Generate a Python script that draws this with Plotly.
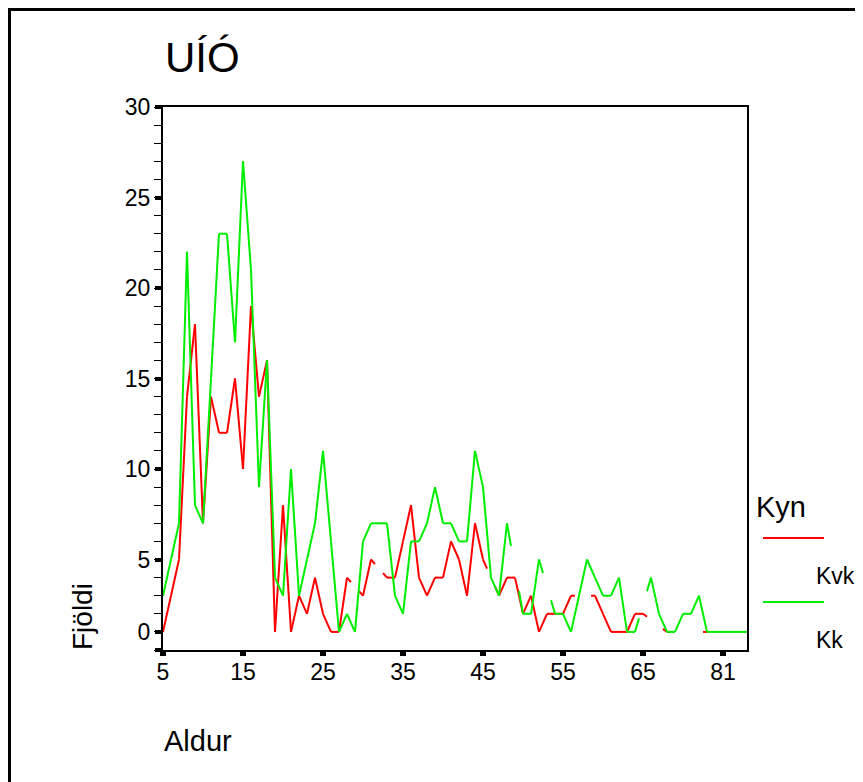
import plotly.graph_objects as go

# aldur (flokkar á x-ás) - aðeins þeir aldurshópar sem koma fyrir
aldur = list(range(5, 66)) + [66, 67, 68, 70, 71, 73, 74, 76, 78, 81, 82, 84, 86]

# fjöldi eftir kyni, None = enginn í þeim aldri
kvk = [1, 3, 5, 14, 18, 7, 14, 12, 12, 15,
       10, 19, 14, 16, 1, 8, 1, 3, 2, 4,
       2, 1, 1, 4, None, 3, 5, None, 4, 4,
       6, 8, 4, 3, 4, 4, 6, 5, 3, 7,
       5, None, 3, 4, 4, 2, 3, 1, 2, 2,
       2, 3, None, None, 3, 2, 1, 1, 1, 2,
       2, None, None, 1, None, None, None, None, 1, None,
       None, None, None, None]
kk = [3, 5, 7, 22, 8, 7, 15, 23, 23, 17,
      27, 21, 9, 16, 4, 3, 10, 3, 5, 7,
      11, 6, 1, 2, 1, 6, 7, 7, 7, 3,
      2, 6, 6, 7, 9, 7, 7, 6, 6, 11,
      9, 4, 3, 7, None, 2, 2, 5, None, 2,
      2, 1, 3, 5, 4, 3, 3, 4, 1, 1,
      None, 4, 2, 1, 1, 2, 2, 3, 1, 1,
      1, 1, 1, 1]

kyn = ["Kvk", "Kk"]
litir = ["#ff0000", "#00ee00"]
tick_aldur = [5, 15, 25, 35, 45, 55, 65, 81]
y_ticks = [0, 1, 5, 10, 15, 20, 25, 30]
y_text = ["", "0", "5", "10", "15", "20", "25", "30"]

FONT = "Liberation Sans, Arial, sans-serif"


def lina_med_gotum(gildi, stubbur=0.5):
    # SPSS teiknar línuna yfir eyður en sleppir miðjunni; hér eru stubbarnir
    xs, ys = [], []
    gild = [i for i, v in enumerate(gildi) if v is not None]
    for a, b in zip(gild, gild[1:]):
        va, vb = gildi[a], gildi[b]
        if b - a == 1:
            xs += [a, b, None]
            ys += [va, vb, None]
        else:
            halli = (vb - va) / (b - a)
            xs += [a, a + stubbur, None, b - stubbur, b, None]
            ys += [va, va + halli * stubbur, None, vb - halli * stubbur, vb, None]
    return xs, ys


fig = go.Figure()
for nafn, gogn, litur in zip(kyn, [kvk, kk], litir):
    xs, ys = lina_med_gotum(gogn)
    fig.add_trace(go.Scatter(x=xs, y=ys, mode="lines", name=nafn,
                             line=dict(color=litur, width=2),
                             showlegend=False, connectgaps=False))

# síðan byrjar 8px inn (body margin), því er allt fært um OFF
OFF = 8
W, H = 863 - OFF, 782 - OFF
L, R, T, B = 163 - OFF, 116, 107 - OFF, 132
pw, ph = W - L - R, H - T - B


def px(x):
    return (x - OFF - L) / pw


def py(y):
    return (H - B - (y - OFF)) / ph


fig.update_layout(
    width=W, height=H,
    margin=dict(l=L, r=R, t=T, b=B),
    paper_bgcolor="white", plot_bgcolor="white",
    font=dict(family=FONT, color="black"),
    xaxis=dict(range=[0, len(aldur) - 1],
               tickvals=[aldur.index(a) for a in tick_aldur],
               ticktext=[str(a) for a in tick_aldur],
               showline=True, linewidth=2, linecolor="black", mirror=True,
               ticks="outside", ticklen=4, tickwidth=6, tickcolor="black",
               ticklabelstandoff=-4,
               showgrid=False, zeroline=False, tickfont=dict(size=23)),
    yaxis=dict(range=[0, 30], tickvals=y_ticks, ticktext=y_text,
               showline=True, linewidth=2, linecolor="black", mirror=True,
               ticks="outside", ticklen=6, tickwidth=4, tickcolor="black",
               minor=dict(ticks="outside", dtick=1, tick0=0, ticklen=7,
                          tickwidth=1, tickcolor="black"),
               showgrid=False, zeroline=False, tickfont=dict(size=23)),
)

annot = [
    dict(text="UÍÓ", x=px(163), y=py(58), xanchor="left", yanchor="middle",
         font=dict(size=42)),
    dict(text="Fjöldi", x=px(82), y=py(617), xanchor="center", yanchor="middle",
         textangle=-90, font=dict(size=28)),
    dict(text="Aldur", x=px(162), y=py(741), xanchor="left", yanchor="middle",
         font=dict(size=29)),
    dict(text="Kyn", x=px(754), y=py(507), xanchor="left", yanchor="middle",
         font=dict(size=29)),
]
# skýringar
for k, (nafn, litur) in enumerate(zip(kyn, litir)):
    ly = 538 + k * 64
    fig.add_shape(type="line", xref="paper", yref="paper",
                  x0=px(763), x1=px(824), y0=py(ly), y1=py(ly),
                  line=dict(color=litur, width=2))
    annot.append(dict(text=nafn, x=px(814), y=py(ly + 38), xanchor="left",
                      yanchor="middle", font=dict(size=23)))

for a in annot:
    a.update(xref="paper", yref="paper", showarrow=False)
fig.update_layout(annotations=annot)

# rammi utan um allt
fig.add_shape(type="rect", xref="paper", yref="paper",
              x0=px(OFF + 1), x1=px(W + 40), y0=py(OFF + 1), y1=py(H + 40),
              line=dict(color="black", width=4))

fig.write_html("out.html")
